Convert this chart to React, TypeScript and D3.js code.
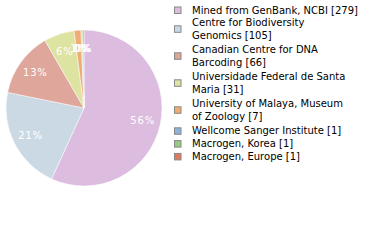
import React from "react";
import * as d3 from "d3";

const labels: string[][] = [
  ["Mined from GenBank, NCBI [279]"],
  ["Centre for Biodiversity", "Genomics [105]"],
  ["Canadian Centre for DNA", "Barcoding [66]"],
  ["Universidade Federal de Santa", "Maria [31]"],
  ["University of Malaya, Museum", "of Zoology [7]"],
  ["Wellcome Sanger Institute [1]"],
  ["Macrogen, Korea [1]"],
  ["Macrogen, Europe [1]"],
];
const values = [279, 105, 66, 31, 7, 1, 1, 1];
const colors = ["#dcbcdf", "#cbd9e5", "#dfa69c", "#dde3a0", "#f0ac74", "#8fb2db", "#9dc880", "#e07a5f"];

export default function App() {
  const W = 380, H = 240;
  const cx = 84, cy = 108, r = 78;
  const total = d3.sum(values);
  const pie = d3.pie<number>().sort(null).value((d) => d)(values);
  const arc = d3.arc<d3.PieArcDatum<number>>().innerRadius(0).outerRadius(r);
  const labelArc = d3.arc<d3.PieArcDatum<number>>().innerRadius(60).outerRadius(60);

  const items: { y: number; lines: string[]; color: string }[] = [];
  let y = 10;
  labels.forEach((ls, i) => {
    items.push({ y, lines: ls, color: colors[i] });
    y += ls.length === 1 ? 12.8 : 27.0;
  });

  return (
    <svg width={W} height={H} style={{ position: "absolute", left: 0, top: 0 }} fontFamily="DejaVu Sans">
      <g transform={`translate(${cx},${cy})`}>
        {pie.map((d, i) => (
          <path key={i} d={arc(d) || ""} fill={colors[i]} stroke="#ffffff" strokeWidth={0.5} />
        ))}
        {pie.map((d, i) => {
          const [x, yy] = labelArc.centroid(d);
          return (
            <text key={i} x={x} y={yy} dy="0.35em" textAnchor="middle" fill="#ffffff" fontSize={10} letterSpacing={0.8}>
              {Math.floor((values[i] / total) * 100)}%
            </text>
          );
        })}
      </g>
      {items.map((it, i) => {
        const boxY = it.y + ((it.lines.length - 1) * 12) / 2;
        return (
          <g key={i}>
            <rect x={174.5} y={boxY - 3} width={6.5} height={6.5} fill={it.color} stroke="#888" strokeWidth={1} />
            {it.lines.map((l, j) => (
              <text key={j} x={192} y={it.y + j * 12.5} dy="0.35em" fontSize={10} fill="#000">
                {l}
              </text>
            ))}
          </g>
        );
      })}
    </svg>
  );
}
